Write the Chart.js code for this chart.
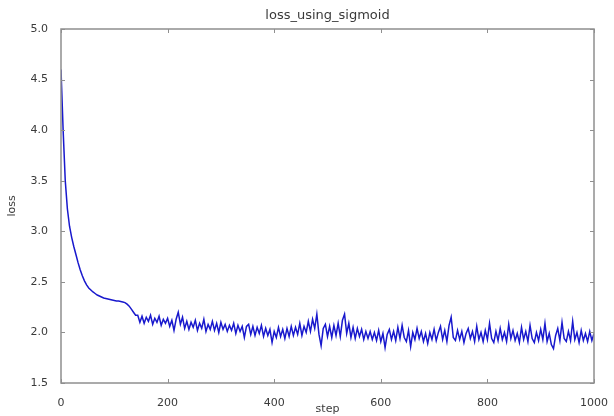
<!DOCTYPE html>
<html>
<head>
<meta charset="utf-8">
<script src="https://cdn.jsdelivr.net/npm/chart.js@4"></script>
<style>
  html, body { margin: 0; padding: 0; background: #fff; }
  #wrap { width: 614px; height: 416px; }
</style>
</head>
<body>
<div id="wrap"><canvas id="lossChart" width="614" height="416"></canvas></div>
<script>
// loss, one value every STEP_INTERVAL steps (0..1000)
const STEP_INTERVAL = 4;
const lossValues = [
  4.60, 4.00, 3.50, 3.22, 3.05, 2.94, 2.85, 2.77, 2.69, 2.62,
  2.56, 2.51, 2.47, 2.44, 2.42, 2.40, 2.385, 2.37, 2.36, 2.35,
  2.34, 2.335, 2.33, 2.325, 2.32, 2.315, 2.31, 2.31, 2.305, 2.30,
  2.295, 2.28, 2.26, 2.23, 2.20, 2.17,
  2.17, 2.10, 2.16, 2.09, 2.15, 2.11, 2.17, 2.08, 2.14, 2.10,
  2.16, 2.07, 2.13, 2.09, 2.14, 2.06, 2.12, 2.02,
  2.13, 2.20, 2.08, 2.15,
  2.04, 2.11, 2.03, 2.10, 2.05, 2.12, 2.02, 2.09, 2.04, 2.13,
  2.01, 2.08, 2.03, 2.11, 2.02, 2.09, 2.00, 2.10, 2.03, 2.08,
  2.01, 2.07, 2.02, 2.09, 1.99, 2.07, 2.01, 2.06,
  1.95, 2.06,
  2.08, 1.98, 2.06, 1.97, 2.05, 1.99, 2.07, 1.96, 2.04, 1.97,
  2.03, 1.90, 2.01, 1.95, 2.05, 1.96, 2.03, 1.94, 2.04, 1.96,
  2.06, 1.97, 2.05, 1.98, 2.09, 1.97, 2.06, 2.00, 2.11, 2.01,
  2.13, 2.04, 2.18, 1.98, 1.87, 2.04, 2.08, 1.96,
  2.06, 1.95, 2.07, 1.97, 2.09, 1.96, 2.12, 2.18, 1.99, 2.09,
  1.95, 2.05, 1.94, 2.04, 1.96, 2.03, 1.93, 2.01,
  1.94, 2.01, 1.93, 2.00, 1.92, 2.02, 1.91, 1.99, 1.85, 1.98,
  2.03, 1.93, 2.01, 1.92, 2.05, 1.94, 2.07, 1.95, 1.91, 2.02,
  1.86, 2.00, 1.93, 2.04, 1.94, 2.01, 1.91, 1.99, 1.89, 2.00,
  1.93, 2.03, 1.92, 2.00, 2.06, 1.93, 2.02, 1.91, 2.07, 2.15,
  1.95, 1.92, 2.02, 1.93, 2.01, 1.90, 1.99, 2.04, 1.94, 2.01,
  1.91, 2.06, 1.93, 2.00, 1.91, 2.02, 1.93, 2.09, 1.94, 1.90,
  2.01, 1.92, 2.04, 1.93, 2.00, 1.91, 2.08, 1.94, 2.02, 1.92,
  1.99, 1.90, 2.05, 1.93, 2.01, 1.91, 2.07, 1.94, 1.90, 2.00,
  1.92, 2.03, 1.93, 2.09, 1.91, 1.99, 1.88, 1.84, 1.97, 2.04,
  1.92, 2.10, 1.94, 1.91, 2.01, 1.92, 2.11, 1.93, 2.00, 1.90,
  2.02, 1.92, 1.99, 1.91, 2.01, 1.92, 1.99
];
const steps = lossValues.map((_, i) => i * STEP_INTERVAL);

const xTicks = [0, 200, 400, 600, 800, 1000];
const yTicks = [1.5, 2.0, 2.5, 3.0, 3.5, 4.0, 4.5, 5.0];

const chartTitle = 'loss_using_sigmoid';
const xLabel = 'step';
const yLabel = 'loss';

const textColor = '#3a3a3a';
const frameColor = '#8f8f8f';

// matplotlib-like frame: box around plot, inward ticks on all sides, title centred over plot
const framePlugin = {
  id: 'frame',
  afterDatasetsDraw(chart) {
    const { ctx, chartArea: a, scales } = chart;
    ctx.save();
    ctx.strokeStyle = frameColor;
    ctx.lineWidth = 1.5;
    ctx.strokeRect(a.left, a.top, a.right - a.left, a.bottom - a.top);

    ctx.lineWidth = 1;
    const len = 4;
    xTicks.forEach(v => {
      const px = Math.round(scales.x.getPixelForValue(v)) + 0.5;
      ctx.beginPath();
      ctx.moveTo(px, a.bottom); ctx.lineTo(px, a.bottom - len);
      ctx.moveTo(px, a.top); ctx.lineTo(px, a.top + len);
      ctx.stroke();
    });
    yTicks.forEach(v => {
      const py = Math.round(scales.y.getPixelForValue(v)) + 0.5;
      ctx.beginPath();
      ctx.moveTo(a.left, py); ctx.lineTo(a.left + len, py);
      ctx.moveTo(a.right, py); ctx.lineTo(a.right - len, py);
      ctx.stroke();
    });

    ctx.fillStyle = textColor;
    ctx.font = '13px "DejaVu Sans"';
    ctx.textAlign = 'center';
    ctx.textBaseline = 'middle';
    ctx.fillText(chartTitle, (a.left + a.right) / 2, 16);
    ctx.restore();
  }
};

const ctx = document.getElementById('lossChart').getContext('2d');
new Chart(ctx, {
  type: 'line',
  data: {
    datasets: [{
      label: 'loss',
      data: steps.map((s, i) => ({ x: s, y: lossValues[i] })),
      borderColor: 'rgb(24, 24, 205)',
      borderWidth: 1.5,
      pointRadius: 0,
      tension: 0,
      fill: false
    }]
  },
  options: {
    responsive: false,
    animation: false,
    layout: { padding: { top: 29, right: 18, left: 0, bottom: 0 } },
    plugins: {
      legend: { display: false },
      tooltip: { enabled: false }
    },
    scales: {
      x: {
        type: 'linear',
        min: 0,
        max: 1000,
        afterBuildTicks: s => { s.ticks = xTicks.map(v => ({ value: v })); },
        afterFit: s => { s.height = 33; },
        grid: { display: false },
        border: { display: false },
        ticks: {
          padding: 6,
          color: textColor,
          font: { family: 'DejaVu Sans', size: 11 },
          maxRotation: 0,
          callback: v => String(v)
        },
        title: {
          display: true,
          text: xLabel,
          color: textColor,
          font: { family: 'DejaVu Sans', size: 11 },
          padding: 0
        }
      },
      y: {
        min: 1.5,
        max: 5.0,
        afterBuildTicks: s => { s.ticks = yTicks.map(v => ({ value: v })); },
        afterFit: s => { s.width = 61; },
        grid: { display: false },
        border: { display: false },
        ticks: {
          padding: 5,
          color: textColor,
          font: { family: 'DejaVu Sans', size: 11 },
          callback: v => Number(v).toFixed(1)
        },
        title: {
          display: true,
          text: yLabel,
          color: textColor,
          font: { family: 'DejaVu Sans', size: 11 },
          padding: { top: 6, bottom: 0 }
        }
      }
    }
  },
  plugins: [framePlugin]
});
</script>
</body>
</html>
